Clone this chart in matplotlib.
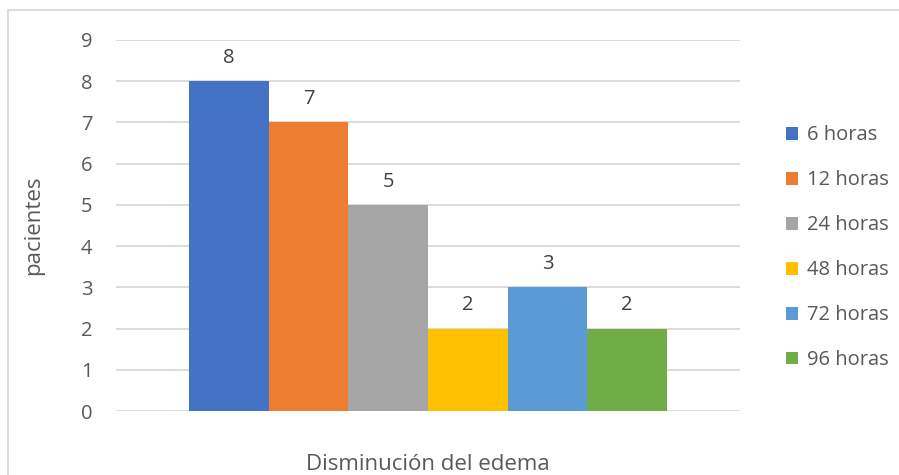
import matplotlib.pyplot as plt
from matplotlib.patches import Rectangle

# Data
series = ["6 horas", "12 horas", "24 horas", "48 horas", "72 horas", "96 horas"]
values = [8, 7, 5, 2, 3, 2]
colors = ["#4472C4", "#ED7D31", "#A5A5A5", "#FFC000", "#5B9BD5", "#70AD47"]

plt.rcParams["font.family"] = ["Open Sans", "DejaVu Sans"]
text_color = "#595959"

fig = plt.figure(figsize=(8.99, 4.75), dpi=100)
ax = fig.add_axes([0.129, 0.1347, 0.694, 0.7811])

for i, (name, v, c) in enumerate(zip(series, values, colors)):
    ax.bar(i, v, width=1.0, color=c, label=name, zorder=3)
    ax.text(i, v + 0.32, str(v), ha="center", va="bottom", fontsize=14.5, color="#404040")

ax.set_xlim(-0.5 - 0.916, 5.5 + 0.916)
ax.set_ylim(0, 9)
ax.set_yticks(range(0, 10))
ax.set_xticks([])
ax.grid(axis="y", color="#D9D9D9", linewidth=1.3, zorder=0)
for s in ax.spines.values():
    s.set_visible(False)
ax.tick_params(axis="y", length=0, labelsize=14.5, labelcolor=text_color, pad=17)

ax.set_ylabel("pacientes", fontsize=16, color=text_color, labelpad=26)
ax.set_xlabel("Disminución del edema", fontsize=16, color=text_color, labelpad=31)

leg = ax.legend(loc="center left", bbox_to_anchor=(1.045, 0.44), frameon=False,
                fontsize=14.5, handlelength=0.6, handleheight=0.6, handletextpad=0.45,
                labelspacing=1.24, labelcolor=text_color)

# outer chart border
fig.patches.append(Rectangle((8 / 899, -0.1), 1.2, 1 - 10 / 475 + 0.1, transform=fig.transFigure,
                             fill=False, edgecolor="#D9D9D9", linewidth=1.3))

fig.savefig("out.png", dpi=100)
